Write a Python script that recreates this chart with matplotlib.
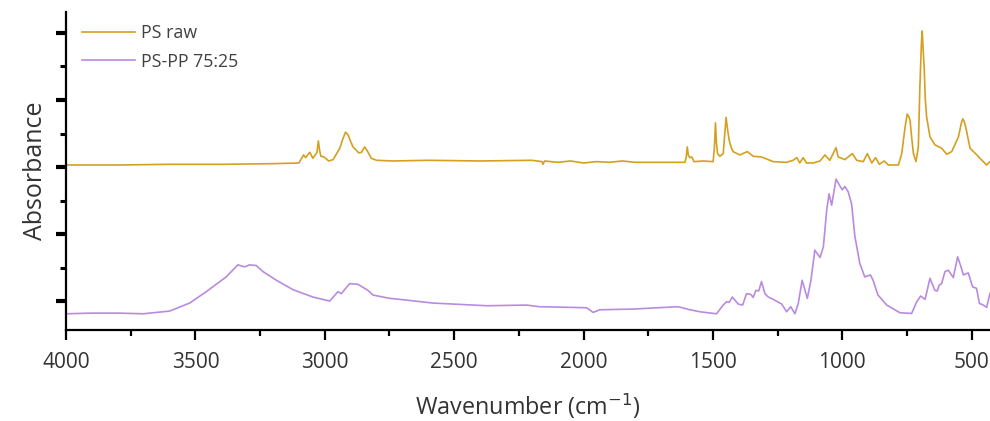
import matplotlib.pyplot as plt
from matplotlib.ticker import MultipleLocator, NullFormatter

plt.rcParams['font.family'] = ['Open Sans', 'DejaVu Sans']

# PS raw spectrum (wavenumber in cm-1, absorbance with vertical offset)
ps_wn = [4000, 3800, 3600, 3400, 3200, 3100, 3082, 3074, 3058, 3046, 3030, 3025, 3020, 3015,
         3003, 2985, 2968, 2942, 2930, 2920, 2910, 2900, 2891, 2868, 2858, 2846, 2837, 2820,
         2800, 2736, 2600, 2400, 2200, 2160, 2157, 2150, 2100, 2050, 2000, 1950, 1900, 1850,
         1800, 1705, 1608, 1603, 1599, 1595, 1589, 1581, 1573, 1537, 1499, 1494, 1490, 1486,
         1482, 1473, 1460, 1455, 1449, 1443, 1437, 1430, 1422, 1396, 1367, 1344, 1312, 1267,
         1215, 1190, 1176, 1164, 1151, 1138, 1112, 1086, 1067, 1048, 1024, 1016, 990, 961,
         944, 919, 903, 886, 871, 857, 838, 822, 783, 770, 762, 757, 749, 744, 738, 732, 725,
         715, 706, 700, 694, 691, 688, 683, 679, 674, 661, 642, 616, 596, 577, 551, 540, 534,
         528, 522, 506, 480, 455, 442, 429]
ps_abs = [2.03, 2.03, 2.04, 2.04, 2.05, 2.06, 2.18, 2.14, 2.22, 2.13, 2.22, 2.39, 2.25, 2.16,
          2.15, 2.09, 2.11, 2.28, 2.42, 2.52, 2.48, 2.38, 2.30, 2.21, 2.22, 2.30, 2.25, 2.13,
          2.10, 2.09, 2.10, 2.09, 2.10, 2.08, 2.04, 2.09, 2.07, 2.09, 2.06, 2.08, 2.07, 2.09,
          2.07, 2.07, 2.07, 2.15, 2.30, 2.18, 2.14, 2.15, 2.08, 2.09, 2.08, 2.30, 2.66, 2.35,
          2.20, 2.16, 2.20, 2.45, 2.74, 2.55, 2.40, 2.30, 2.23, 2.18, 2.23, 2.16, 2.15, 2.08,
          2.07, 2.10, 2.14, 2.06, 2.14, 2.06, 2.06, 2.09, 2.18, 2.10, 2.29, 2.15, 2.11, 2.20,
          2.10, 2.08, 2.20, 2.06, 2.14, 2.04, 2.09, 2.03, 2.03, 2.20, 2.45, 2.60, 2.79, 2.76,
          2.70, 2.45, 2.20, 2.08, 2.30, 3.20, 3.85, 4.03, 3.80, 3.45, 3.00, 2.75, 2.45, 2.33,
          2.28, 2.19, 2.23, 2.45, 2.65, 2.72, 2.67, 2.58, 2.28, 2.18, 2.08, 2.03, 2.08]

# PS-PP 75:25 blend spectrum
pp_wn = [4000, 3900, 3800, 3700, 3677, 3600, 3522, 3458, 3381, 3336, 3310, 3290, 3265, 3239,
         3187, 3123, 3046, 2981, 2949, 2936, 2904, 2872, 2833, 2814, 2749, 2710, 2582, 2375,
         2220, 2169, 2100, 1988, 1963, 1937, 1808, 1640, 1628, 1589, 1550, 1486, 1460, 1447,
         1437, 1425, 1402, 1385, 1370, 1354, 1344, 1334, 1323, 1312, 1299, 1286, 1267, 1234,
         1215, 1199, 1183, 1170, 1155, 1135, 1121, 1106, 1086, 1073, 1060, 1051, 1041, 1024,
         1011, 1000, 990, 977, 964, 951, 932, 913, 891, 881, 862, 828, 777, 732, 712, 697,
         680, 661, 642, 633, 625, 616, 603, 590, 571, 554, 541, 532, 513, 496, 481, 470, 455,
         442, 429]
pp_abs = [-0.19, -0.18, -0.18, -0.19, -0.18, -0.15, -0.03, 0.14, 0.36, 0.54, 0.51, 0.54, 0.53,
          0.44, 0.31, 0.17, 0.06, 0.0, 0.14, 0.11, 0.26, 0.25, 0.16, 0.09, 0.04, 0.025, -0.03,
          -0.07, -0.06, -0.085, -0.09, -0.10, -0.17, -0.13, -0.12, -0.085, -0.09, -0.13, -0.16,
          -0.19, -0.06, -0.01, -0.02, 0.06, -0.045, -0.06, 0.11, 0.10, 0.055, 0.16, 0.15, 0.29,
          0.11, 0.06, 0.025, -0.045, -0.16, -0.085, -0.19, -0.035, 0.31, 0.04, 0.31, 0.76, 0.65,
          0.81, 1.36, 1.60, 1.43, 1.82, 1.73, 1.66, 1.71, 1.63, 1.45, 0.96, 0.56, 0.36, 0.39,
          0.31, 0.09, -0.06, -0.175, -0.185, -0.01, 0.075, 0.025, 0.34, 0.16, 0.15, 0.24, 0.26,
          0.44, 0.46, 0.35, 0.66, 0.51, 0.39, 0.42, 0.21, 0.19, -0.035, -0.06, -0.095, 0.115]

labels = ['PS raw', 'PS-PP 75:25']
colors = ['#D4A020', '#B98BE0']

fig = plt.figure(figsize=(9.9, 4.21), dpi=100)
ax = fig.add_axes([0.0667, 0.216, 0.9333, 0.7555])

ax.plot(ps_wn, ps_abs, color=colors[0], lw=1.2, label=labels[0])
ax.plot(pp_wn, pp_abs, color=colors[1], lw=1.2, label=labels[1])

ax.set_xlim(4000, 429)
ax.set_ylim(-0.433, 4.313)

for side in ['top', 'right']:
    ax.spines[side].set_visible(False)
for side in ['left', 'bottom']:
    ax.spines[side].set_linewidth(1.6)

ax.xaxis.set_major_locator(MultipleLocator(500))
ax.xaxis.set_minor_locator(MultipleLocator(250))
ax.yaxis.set_major_locator(MultipleLocator(1))
ax.yaxis.set_minor_locator(MultipleLocator(0.5))
ax.yaxis.set_major_formatter(NullFormatter())

ax.tick_params(axis='x', which='major', length=7.5, width=1.6, labelsize=15,
               labelcolor='#333333', pad=8)
ax.tick_params(axis='x', which='minor', length=4, width=1.6)
ax.tick_params(axis='y', which='major', length=7.5, width=3)
ax.tick_params(axis='y', which='minor', length=4.5, width=2.2)

ax.set_xlabel('Wavenumber (cm$^{-1}$)', fontsize=16.8, color='#333333', labelpad=14)
ax.set_ylabel('Absorbance', fontsize=18, color='#333333', labelpad=2)

ax.legend(loc='upper left', frameon=False, fontsize=12.8, handlelength=3.0,
          handletextpad=0.3, labelspacing=0.6, labelcolor='#404040',
          bbox_to_anchor=(0.0, 1.013))

fig.savefig('out.png', dpi=100)
